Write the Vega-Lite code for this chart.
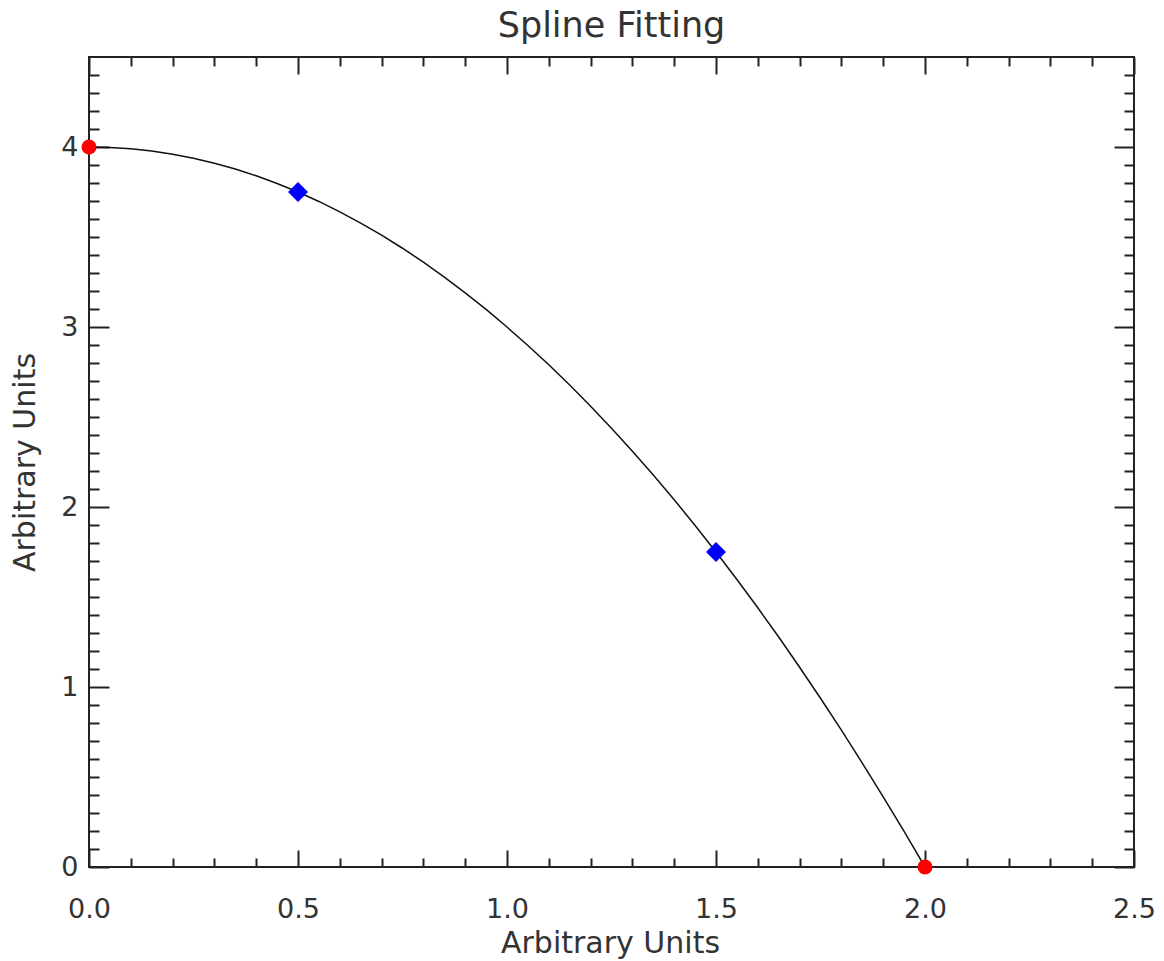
{
  "$schema": "https://vega.github.io/schema/vega-lite/v6.json",
  "autosize": {"type": "none"},
  "padding": {"left": 89, "top": 57, "right": 30, "bottom": 94},
  "width": 1045,
  "height": 810,
  "background": "white",
  "title": {"text": "Spline Fitting", "fontSize": 35, "font": "DejaVu Sans", "fontWeight": "normal", "color": "#333", "baseline": "alphabetic", "offset": -16, "anchor": "middle"},
  "config": {
    "view": {"stroke": "#222", "strokeWidth": 2},
    "axis": {"domain": false, "grid": false, "labelFlush": false, "labelOverlap": false, "tickColor": "#222", "tickWidth": 2, "labelFont": "DejaVu Sans", "labelFontSize": 27, "labelColor": "#333", "titleFont": "DejaVu Sans", "titleFontSize": 30, "titleFontWeight": "normal", "titleColor": "#333"}
  },
  "datasets": {
    "curve": [
      {"x": 0, "y": 4}, {"x": 0.05, "y": 3.9975}, {"x": 0.1, "y": 3.99}, {"x": 0.15, "y": 3.9775}, {"x": 0.2, "y": 3.96},
      {"x": 0.25, "y": 3.9375}, {"x": 0.3, "y": 3.91}, {"x": 0.35, "y": 3.8775}, {"x": 0.4, "y": 3.84}, {"x": 0.45, "y": 3.7975},
      {"x": 0.5, "y": 3.75}, {"x": 0.55, "y": 3.6975}, {"x": 0.6, "y": 3.64}, {"x": 0.65, "y": 3.5775}, {"x": 0.7, "y": 3.51},
      {"x": 0.75, "y": 3.4375}, {"x": 0.8, "y": 3.36}, {"x": 0.85, "y": 3.2775}, {"x": 0.9, "y": 3.19}, {"x": 0.95, "y": 3.0975},
      {"x": 1.0, "y": 3.0}, {"x": 1.05, "y": 2.8975}, {"x": 1.1, "y": 2.79}, {"x": 1.15, "y": 2.6775}, {"x": 1.2, "y": 2.56},
      {"x": 1.25, "y": 2.4375}, {"x": 1.3, "y": 2.31}, {"x": 1.35, "y": 2.1775}, {"x": 1.4, "y": 2.04}, {"x": 1.45, "y": 1.8975},
      {"x": 1.5, "y": 1.75}, {"x": 1.55, "y": 1.5975}, {"x": 1.6, "y": 1.44}, {"x": 1.65, "y": 1.2775}, {"x": 1.7, "y": 1.11},
      {"x": 1.75, "y": 0.9375}, {"x": 1.8, "y": 0.76}, {"x": 1.85, "y": 0.5775}, {"x": 1.9, "y": 0.39}, {"x": 1.95, "y": 0.1975},
      {"x": 2.0, "y": 0}
    ],
    "ends": [{"x": 0, "y": 4}, {"x": 2, "y": 0}],
    "knots": [{"x": 0.5, "y": 3.75}, {"x": 1.5, "y": 1.75}]
  },
  "resolve": {"axis": {"x": "independent", "y": "independent"}},
  "layer": [
    {
      "data": {"name": "curve"},
      "mark": {"type": "line", "color": "#111", "strokeWidth": 1.5, "clip": true},
      "encoding": {
        "x": {"field": "x", "type": "quantitative", "scale": {"domain": [0, 2.5], "nice": false, "zero": false},
              "axis": {"orient": "bottom", "values": [0, 0.5, 1, 1.5, 2, 2.5], "format": ".1f", "tickSize": -17, "labelPadding": 46, "title": "Arbitrary Units", "titleX": 521, "titleY": 85, "titleBaseline": "alphabetic", "titleAlign": "center"}},
        "y": {"field": "y", "type": "quantitative", "scale": {"domain": [0, 4.5], "nice": false, "zero": false},
              "axis": {"orient": "left", "values": [0, 1, 2, 3, 4], "format": "d", "tickSize": -20, "labelPadding": 31, "title": "Arbitrary Units", "titleX": -55, "titleY": 405, "titleAngle": -90, "titleBaseline": "alphabetic", "titleAlign": "center"}}
      }
    },
    {
      "data": {"name": "ends"},
      "mark": {"type": "point", "shape": "circle", "filled": true, "color": "#ff0000", "size": 225, "opacity": 1},
      "encoding": {
        "x": {"field": "x", "type": "quantitative",
              "axis": {"orient": "top", "values": [0, 0.5, 1, 1.5, 2, 2.5], "labels": false, "tickSize": -17, "title": null}},
        "y": {"field": "y", "type": "quantitative",
              "axis": {"orient": "right", "values": [0, 1, 2, 3, 4], "labels": false, "tickSize": -20, "title": null}}
      }
    },
    {
      "data": {"name": "knots"},
      "mark": {"type": "point", "shape": "diamond", "filled": true, "color": "#0000ff", "size": 400, "opacity": 1},
      "encoding": {
        "x": {"field": "x", "type": "quantitative",
              "axis": {"orient": "bottom", "values": [0.1, 0.2, 0.3, 0.4, 0.6, 0.7, 0.8, 0.9, 1.1, 1.2, 1.3, 1.4, 1.6, 1.7, 1.8, 1.9, 2.1, 2.2, 2.3, 2.4], "labels": false, "tickSize": -9, "title": null}},
        "y": {"field": "y", "type": "quantitative",
              "axis": {"orient": "left", "values": [0.1, 0.2, 0.3, 0.4, 0.5, 0.6, 0.7, 0.8, 0.9, 1.1, 1.2, 1.3, 1.4, 1.5, 1.6, 1.7, 1.8, 1.9, 2.1, 2.2, 2.3, 2.4, 2.5, 2.6, 2.7, 2.8, 2.9, 3.1, 3.2, 3.3, 3.4, 3.5, 3.6, 3.7, 3.8, 3.9, 4.1, 4.2, 4.3, 4.4], "labels": false, "tickSize": -10, "title": null}}
      }
    },
    {
      "data": {"name": "knots"},
      "mark": {"type": "point", "shape": "diamond", "filled": true, "color": "#0000ff", "size": 400, "opacity": 0},
      "encoding": {
        "x": {"field": "x", "type": "quantitative",
              "axis": {"orient": "top", "values": [0.1, 0.2, 0.3, 0.4, 0.6, 0.7, 0.8, 0.9, 1.1, 1.2, 1.3, 1.4, 1.6, 1.7, 1.8, 1.9, 2.1, 2.2, 2.3, 2.4], "labels": false, "tickSize": -9, "title": null}},
        "y": {"field": "y", "type": "quantitative",
              "axis": {"orient": "right", "values": [0.1, 0.2, 0.3, 0.4, 0.5, 0.6, 0.7, 0.8, 0.9, 1.1, 1.2, 1.3, 1.4, 1.5, 1.6, 1.7, 1.8, 1.9, 2.1, 2.2, 2.3, 2.4, 2.5, 2.6, 2.7, 2.8, 2.9, 3.1, 3.2, 3.3, 3.4, 3.5, 3.6, 3.7, 3.8, 3.9, 4.1, 4.2, 4.3, 4.4], "labels": false, "tickSize": -10, "title": null}}
      }
    }
  ]
}
